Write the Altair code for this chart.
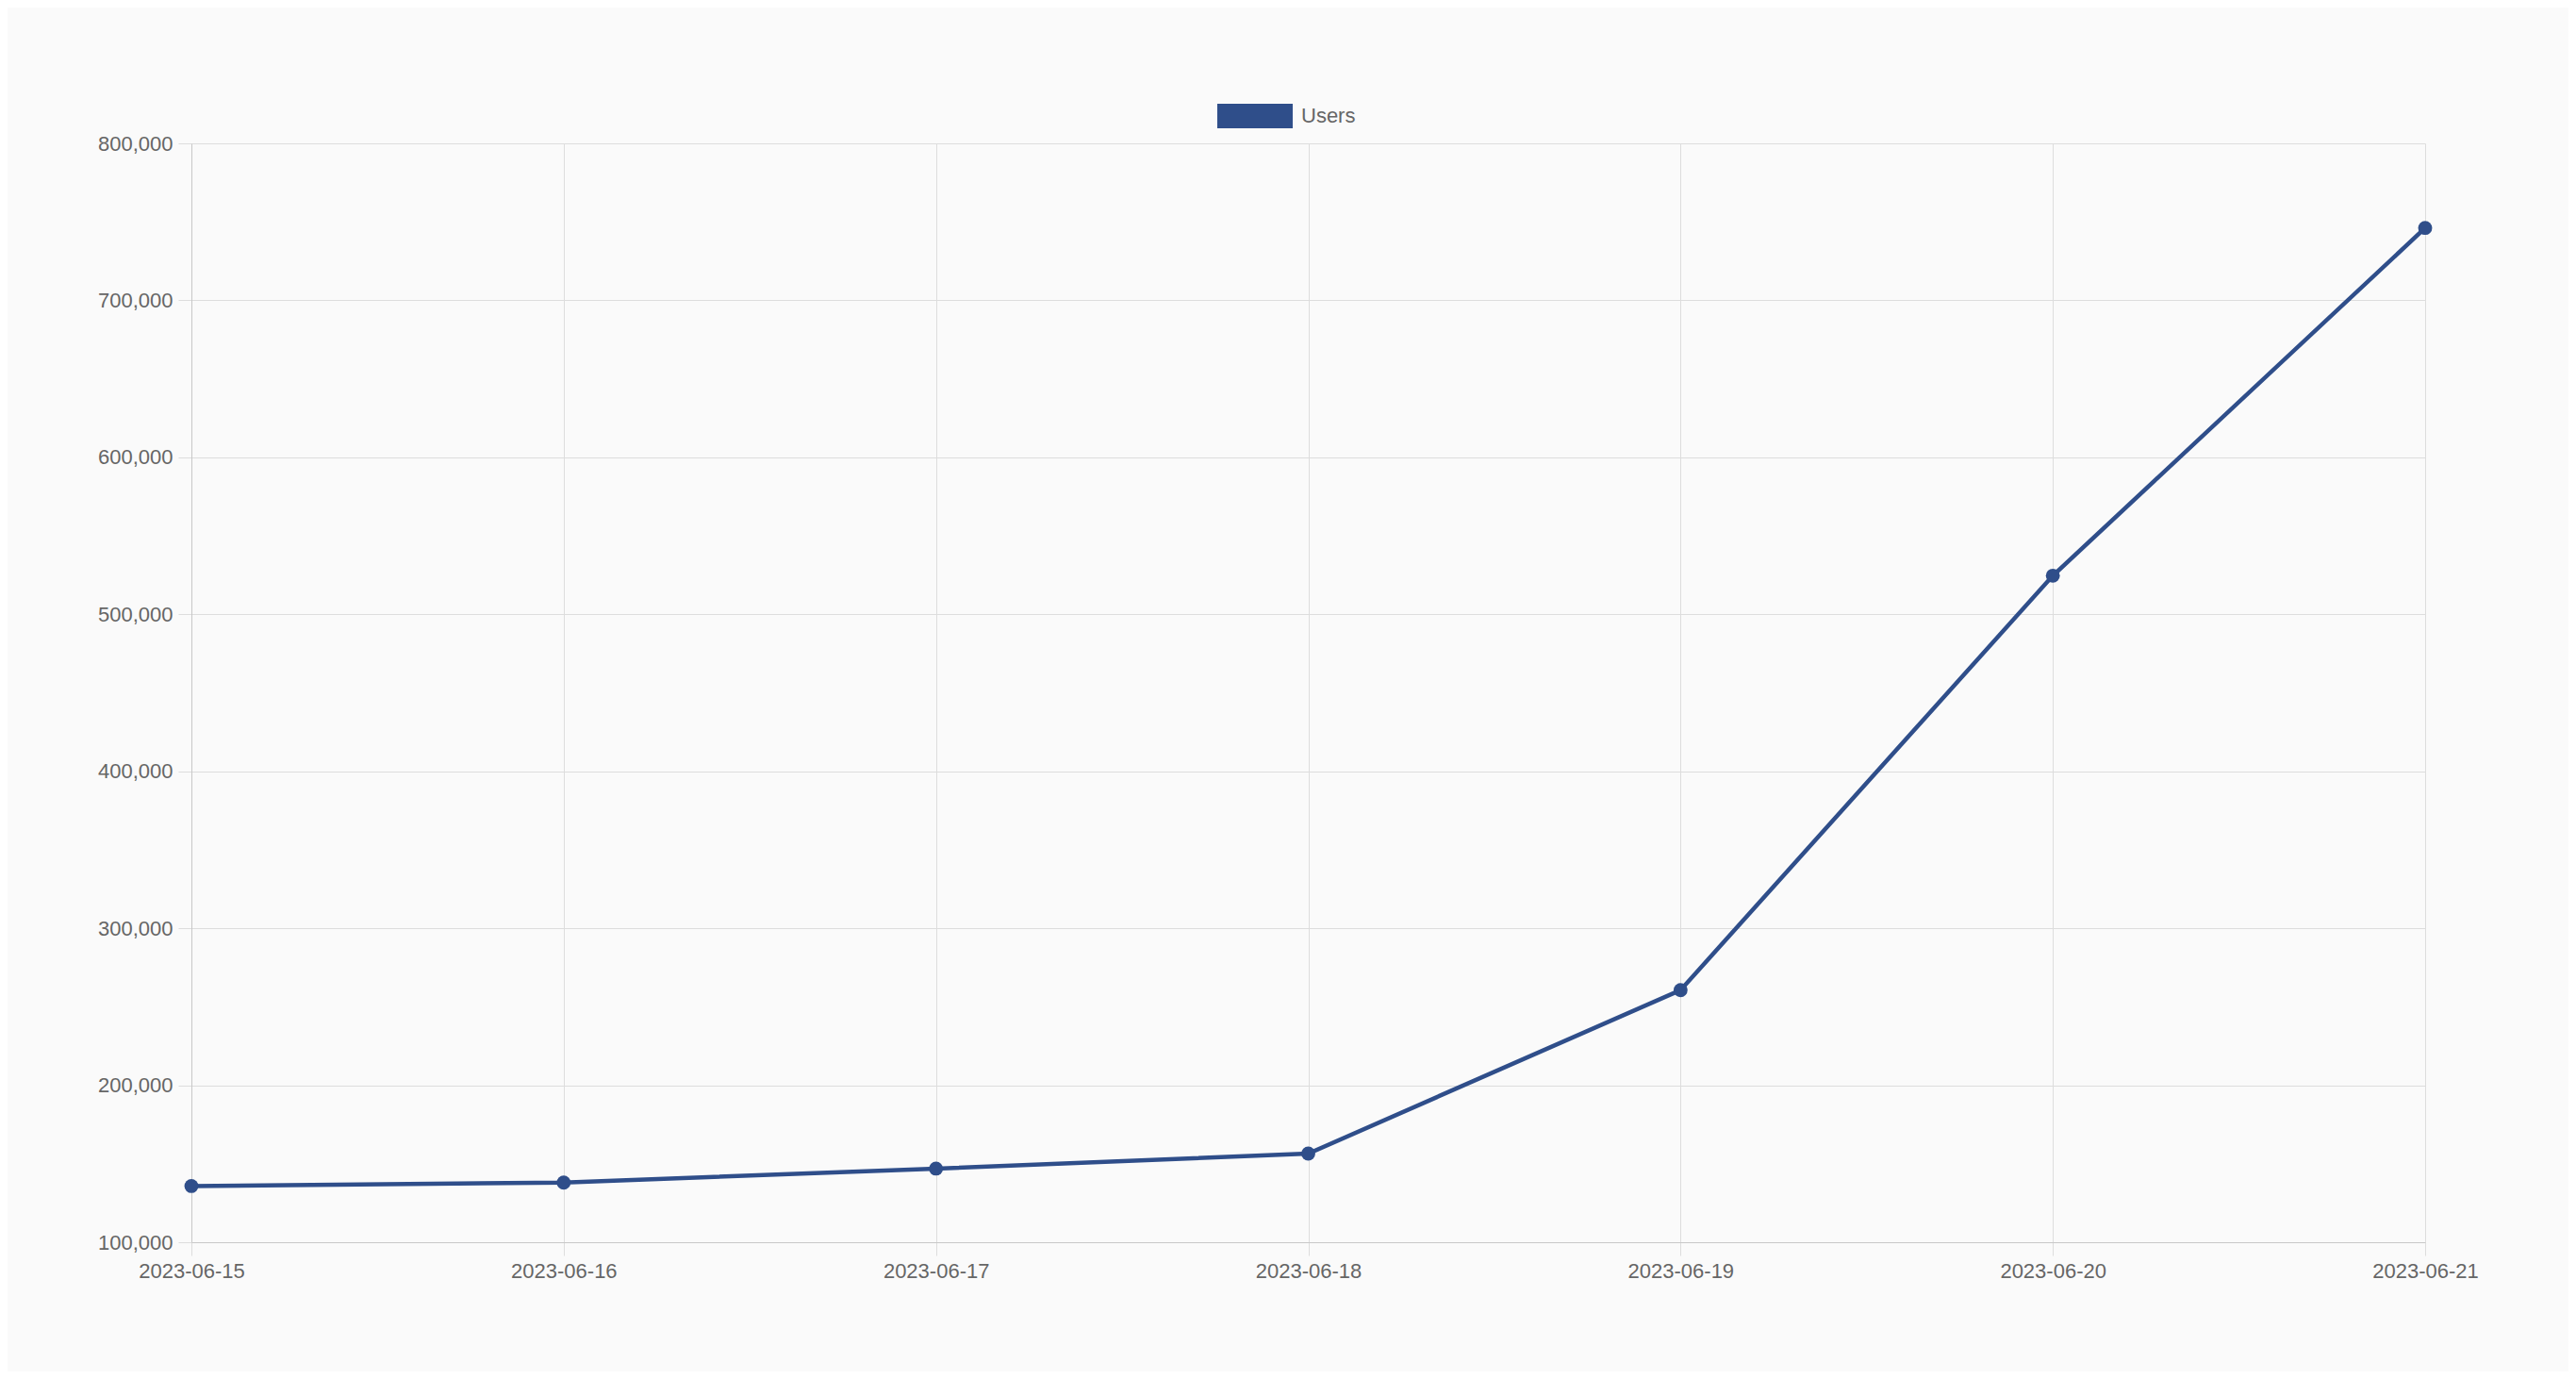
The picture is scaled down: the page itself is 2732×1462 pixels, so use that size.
import altair as alt
import pandas as pd

dates = ["2023-06-15", "2023-06-16", "2023-06-17", "2023-06-18",
         "2023-06-19", "2023-06-20", "2023-06-21"]
users = [135800, 138000, 146900, 156500, 260600, 524600, 746100]
series = ["Users"] * len(dates)
y_ticks = [100000, 200000, 300000, 400000, 500000, 600000, 700000, 800000]

LINE = "#2f4e8a"
FONT = "Liberation Sans"
GRID = "#dddddd"

df = pd.DataFrame({"date": dates, "users": users, "series": series})

x_enc = alt.X(
    "date:O",
    sort=dates,
    scale=alt.Scale(type="point", padding=0),
    axis=alt.Axis(
        title=None, labelAngle=0, grid=True, gridColor=GRID,
        domainColor="#c8c8c8", tickColor=GRID, tickSize=14,
        labelPadding=6, labelFontSize=22, labelColor="#666666",
        labelFont=FONT,
    ),
)
y_enc = alt.Y(
    "users:Q",
    scale=alt.Scale(domain=[100000, 800000], nice=False, zero=False),
    axis=alt.Axis(
        title=None, values=y_ticks, format=",.0f", grid=True,
        gridColor=GRID, domainColor="#c8c8c8", tickColor=GRID,
        tickSize=14, labelPadding=6, labelFontSize=22,
        labelColor="#666666", labelFont=FONT,
    ),
)

color_enc = alt.Color(
    "series:N",
    scale=alt.Scale(domain=["Users"], range=[LINE]),
    legend=alt.Legend(
        title=None, orient="none", legendX=1088, legendY=-69,
        symbolType="M-1,-0.325H1V0.325H-1Z", symbolSize=6400,
        symbolFillColor=LINE, symbolStrokeWidth=0,
        labelFontSize=22, labelColor="#666666", labelFont=FONT,
        labelOffset=9, padding=0,
    ),
)

line = alt.Chart(df).mark_line(strokeWidth=4.5).encode(
    x=x_enc, y=y_enc, color=color_enc
)
points = alt.Chart(df).mark_point(filled=True, size=220, opacity=1, color=LINE).encode(
    x=x_enc, y=y_enc
)

chart = (
    alt.layer(line, points)
    .properties(
        width=2369, height=1165,
        background="#fafafa",
        padding={"left": 195, "top": 144, "right": 152, "bottom": 137},
        autosize=alt.AutoSizeParams(type="none"),
    )
    .configure_view(stroke="transparent")
)

chart.save("out.html", embed_options={"renderer": "svg", "actions": False})
